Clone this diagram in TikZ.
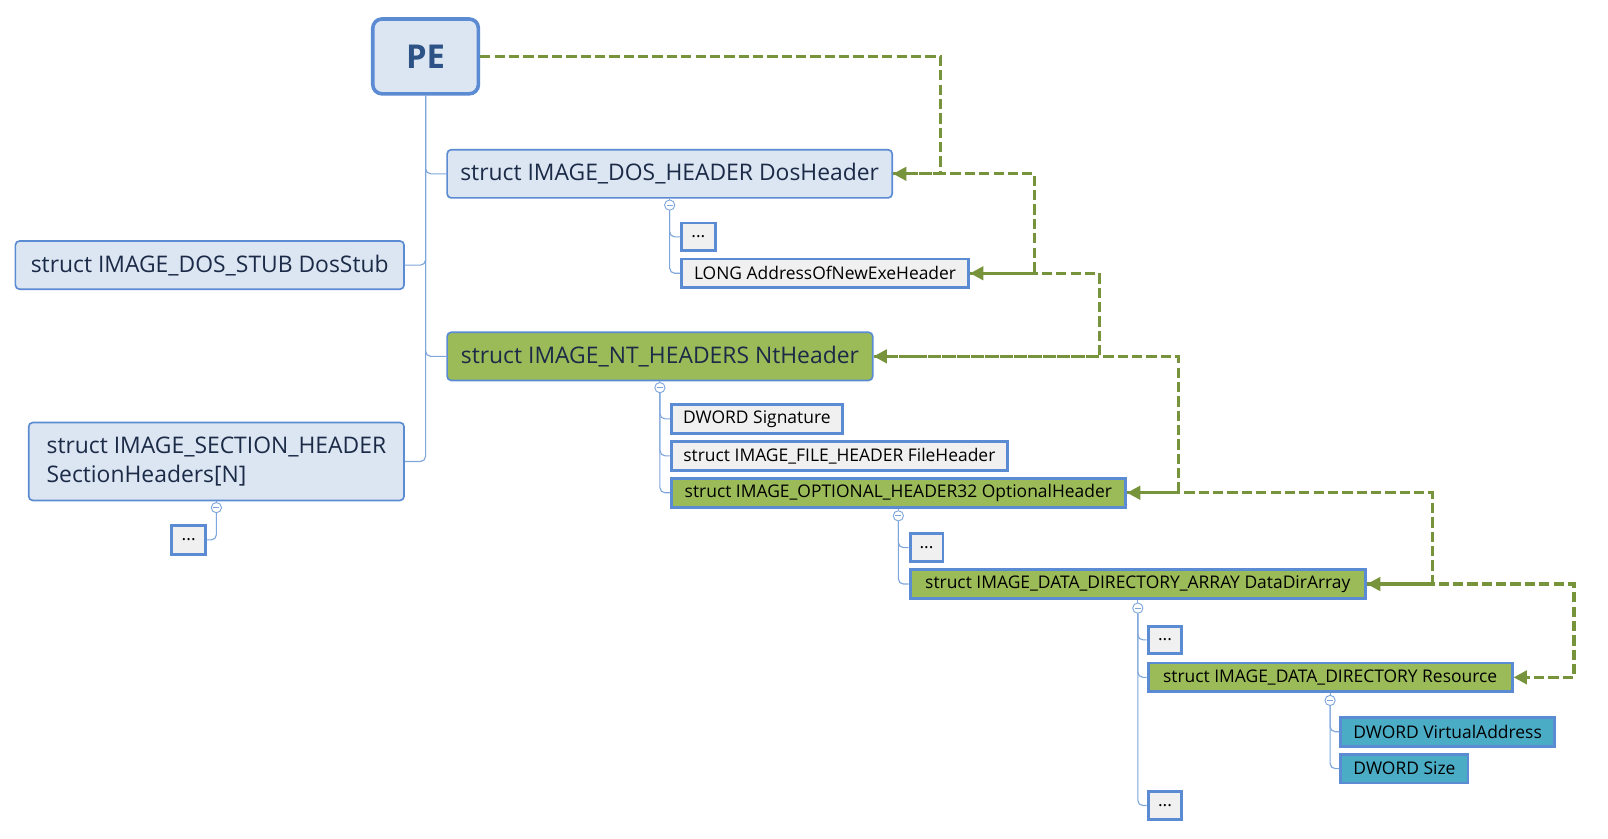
\documentclass[tikz,border=0pt]{standalone}
\usepackage{fontspec}
\setmainfont{Open Sans}
\usetikzlibrary{arrows.meta}
\definecolor{bdr}{HTML}{5B8BD3}
\definecolor{bigfill}{HTML}{DCE6F2}
\definecolor{grn}{HTML}{9BBB59}
\definecolor{tealfill}{HTML}{4BACC6}
\definecolor{leaffill}{HTML}{F0F0F0}
\definecolor{treecol}{HTML}{7EA6DC}
\definecolor{linkcol}{HTML}{77933C}
\definecolor{navy}{HTML}{1B2A47}
\definecolor{pefg}{HTML}{2C5286}
\begin{document}
\begin{tikzpicture}[x=1pt,y=-1pt,
  bigbox/.style={draw=bdr, line width=1.6pt, rounded corners=4pt, fill=bigfill, text=navy, font=\fontsize{22.3}{29}\selectfont, inner sep=0pt},
  leafbox/.style={draw=bdr, line width=2.8pt, fill=leaffill, text=black, font=\fontsize{17}{20}\selectfont, inner sep=0pt},
  treeline/.style={draw=treecol, line width=1.1pt, rounded corners=5pt},
  linkline/.style={draw=linkcol, line width=3.2pt, dash pattern=on 10pt off 4pt, -{Triangle[length=13pt,width=13pt]}},
  knob/.style={circle, draw=treecol, fill=white, line width=0.9pt, minimum size=10pt, inner sep=0pt,
    path picture={\draw[treecol,line width=0.8pt] ([xshift=2pt]path picture bounding box.west) -- ([xshift=-2pt]path picture bounding box.east);}},
]
\useasboundingbox (0,0) rectangle (1568,818);

% main nodes
\node[draw=bdr, line width=3.5pt, rounded corners=9pt, fill=bigfill, minimum width=103, minimum height=73, inner sep=0pt, font=\fontsize{32}{38}\selectfont\bfseries, text=pefg] (pe) at (415,55) {PE};
\node[bigbox, minimum width=434, minimum height=47] (dos) at (653,169.5) {struct IMAGE\_DOS\_HEADER DosHeader};
\node[bigbox, minimum width=379, minimum height=47] (stub) at (204.5,258.5) {struct IMAGE\_DOS\_STUB DosStub};
\node[bigbox, fill=grn, minimum width=415, minimum height=47] (nt) at (643.5,347.5) {struct IMAGE\_NT\_HEADERS NtHeader};
\node[bigbox, minimum width=366, minimum height=76, align=left] (sec) at (211,450) {struct IMAGE\_SECTION\_HEADER\\SectionHeaders[N]};

% leaves
\node[leafbox, minimum width=33, minimum height=28] (secdots) at (184,526.5) {...};
\node[leafbox, minimum width=33, minimum height=27] (dosdots) at (681,231) {...};
\node[leafbox, minimum width=280, minimum height=28] (long) at (804.5,266.5) {LONG AddressOfNewExeHeader};
\node[leafbox, minimum width=167, minimum height=28] (sig) at (738,408.5) {DWORD Signature};
\node[leafbox, minimum width=328, minimum height=28] (file) at (818.5,444.5) {struct IMAGE\_FILE\_HEADER FileHeader};
\node[leafbox, fill=grn, minimum width=443, minimum height=28] (opt) at (876,480.5) {struct IMAGE\_OPTIONAL\_HEADER32 OptionalHeader};
\node[leafbox, minimum width=32, minimum height=27] (optdots) at (903.5,534) {...};
\node[leafbox, fill=grn, minimum width=444, minimum height=28] (dda) at (1109.5,569.5) {struct IMAGE\_DATA\_DIRECTORY\_ARRAY DataDirArray};
\node[leafbox, minimum width=33, minimum height=27] (ddots1) at (1136,624) {...};
\node[leafbox, fill=grn, minimum width=355, minimum height=28] (res) at (1297,660.5) {struct IMAGE\_DATA\_DIRECTORY Resource};
\node[leafbox, minimum width=33, minimum height=28] (ddots2) at (1136,785.5) {...};
\node[leafbox, fill=tealfill, minimum width=208, minimum height=28] (va) at (1411.5,713.5) {DWORD VirtualAddress};
\node[leafbox, fill=tealfill, minimum width=124, minimum height=28] (size) at (1369.5,749.5) {DWORD Size};

% knobs
\node[knob] (ksec) at (211,495) {};
\node[knob] (kdos) at (653,200) {};
\node[knob] (knt) at (643.5,378) {};
\node[knob] (kopt) at (876,503) {};
\node[knob] (kdda) at (1109.5,593) {};
\node[knob] (kres) at (1297,683) {};

% tree lines
\draw[treeline] (pe.south) |- (dos.west);
\draw[treeline] (pe.south) |- (stub.east);
\draw[treeline] (pe.south) |- (nt.west);
\draw[treeline] (pe.south) |- (sec.east);

\draw[treeline] (sec.south) -- (ksec.north);
\draw[treeline] (ksec.south) |- (secdots.east);

\draw[treeline] (dos.south) -- (kdos.north);
\draw[treeline] (kdos.south) |- (dosdots.west);
\draw[treeline] (kdos.south) |- (long.west);

\draw[treeline] (nt.south) -- (knt.north);
\draw[treeline] (knt.south) |- (sig.west);
\draw[treeline] (knt.south) |- (file.west);
\draw[treeline] (knt.south) |- (opt.west);

\draw[treeline] (opt.south) -- (kopt.north);
\draw[treeline] (kopt.south) |- (optdots.west);
\draw[treeline] (kopt.south) |- (dda.west);

\draw[treeline] (dda.south) -- (kdda.north);
\draw[treeline] (kdda.south) |- (ddots1.west);
\draw[treeline] (kdda.south) |- (res.west);
\draw[treeline] (kdda.south) |- (ddots2.west);

\draw[treeline] (res.south) -- (kres.north);
\draw[treeline] (kres.south) |- (va.west);
\draw[treeline] (kres.south) |- (size.west);

% dashed links
\draw[linkline] (pe.east) -| ([xshift=46pt]dos.east) -- (dos.east);
\draw[linkline] (dos.east) -| ([xshift=63pt]long.east) -- (long.east);
\draw[linkline] (long.east) -| ([xshift=220pt]nt.east) -- (nt.east);
\draw[linkline] (nt.east) -| ([xshift=50pt]opt.east) -- (opt.east);
\draw[linkline] (opt.east) -| ([xshift=64pt]dda.east) -- (dda.east);
\draw[linkline] (dda.east) -| ([xshift=59pt]res.east) -- (res.east);
\end{tikzpicture}
\end{document}
